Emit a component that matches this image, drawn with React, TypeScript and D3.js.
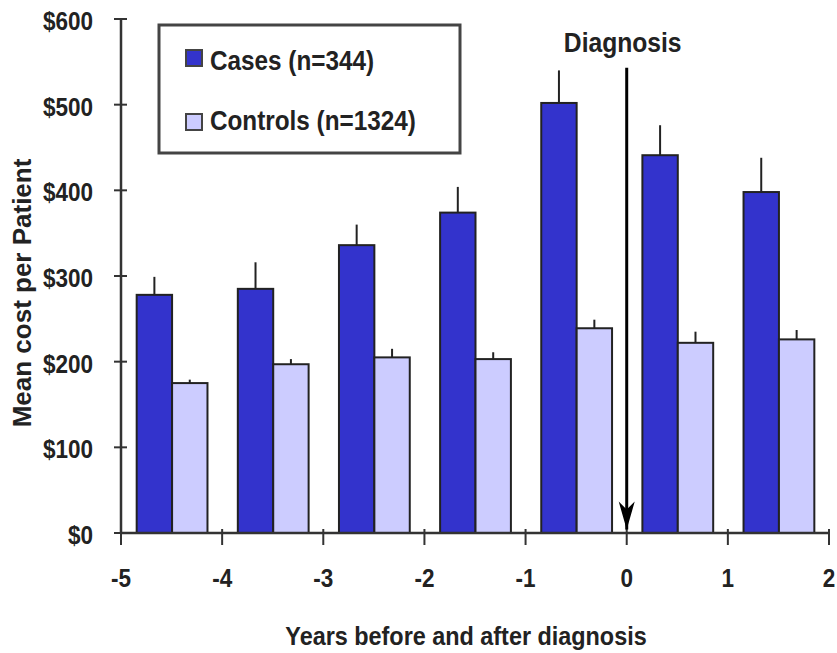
import React from "react";
import * as d3 from "d3";

const years = [-5, -4, -3, -2, -1, 0, 1];
const casesMean = [278, 285, 336, 374, 502, 441, 398];
const casesUpper = [299, 316, 360, 404, 540, 476, 438];
const controlsMean = [175, 197, 205, 203, 239, 222, 226];
const controlsUpper = [179, 203, 215, 211, 249, 235, 237];
const yTicks = [0, 100, 200, 300, 400, 500, 600];
const xTicks = [-5, -4, -3, -2, -1, 0, 1, 2];
const seriesNames = ["Cases (n=344)", "Controls (n=1324)"];
const diagnosisYear = 0;

const W = 837;
const H = 653;
const FONT = "'Liberation Sans', Arial, sans-serif";
const CASE_COLOR = "#3333cc";
const CTRL_COLOR = "#ccccff";
const INK = "#222";

function HText({ x, y, size, sx = 0.9, anchor = "start", children }: any) {
  return (
    <text
      transform={`translate(${x},${y}) scale(${sx},1)`}
      fontFamily={FONT}
      fontWeight="bold"
      fontSize={size}
      textAnchor={anchor}
      fill="#222"
    >
      {children}
    </text>
  );
}

export default function App() {
  const x = d3.scaleLinear().domain([-5, 2]).range([121, 829]);
  const y = d3.scaleLinear().domain([0, 600]).range([533, 19]);
  const caseStart = 0.155;
  const mid = 0.505;
  const end = 0.855;

  return (
    <svg
      width={W}
      height={H}
      style={{ position: "absolute", left: 0, top: 0 }}
    >
      <rect x={0} y={0} width={W} height={H} fill="#fff" />
      {/* bars */}
      {years.map((yr, i) => {
        const cx0 = x(yr + caseStart);
        const cx1 = x(yr + mid);
        const kx1 = x(yr + end);
        return (
          <g key={yr}>
            <rect
              x={cx0}
              y={y(casesMean[i])}
              width={cx1 - cx0}
              height={y(0) - y(casesMean[i])}
              fill={CASE_COLOR}
              stroke={INK}
              strokeWidth={2}
            />
            <line
              x1={(cx0 + cx1) / 2}
              x2={(cx0 + cx1) / 2}
              y1={y(casesMean[i])}
              y2={y(casesUpper[i])}
              stroke={INK}
              strokeWidth={2}
            />
            <rect
              x={cx1}
              y={y(controlsMean[i])}
              width={kx1 - cx1}
              height={y(0) - y(controlsMean[i])}
              fill={CTRL_COLOR}
              stroke={INK}
              strokeWidth={2}
            />
            <line
              x1={(cx1 + kx1) / 2}
              x2={(cx1 + kx1) / 2}
              y1={y(controlsMean[i])}
              y2={y(controlsUpper[i])}
              stroke={INK}
              strokeWidth={2}
            />
          </g>
        );
      })}

      {/* y axis */}
      <line x1={x(-5)} x2={x(-5)} y1={y(600)} y2={y(0)} stroke="#333" strokeWidth={2.5} />
      {yTicks.map((t) => (
        <g key={t}>
          <line x1={x(-5) - 7} x2={x(-5) + 6} y1={y(t)} y2={y(t)} stroke="#333" strokeWidth={2} />
          <HText x={93} y={y(t) + 11} size={25} anchor="end">{`$${t}`}</HText>
        </g>
      ))}

      {/* x axis */}
      <line x1={x(-5)} x2={x(2)} y1={y(0)} y2={y(0)} stroke="#333" strokeWidth={2.5} />
      {xTicks.map((t) => (
        <g key={t}>
          <line x1={x(t)} x2={x(t)} y1={y(0) - 4} y2={y(0) + 12} stroke="#333" strokeWidth={2} />
          <HText x={x(t)} y={587} size={25} anchor="middle">{`${t}`}</HText>
        </g>
      ))}

      {/* axis titles */}
      <HText x={466} y={645} size={26} anchor="middle">Years before and after diagnosis</HText>
      <text
        transform={`translate(31,293) rotate(-90)`}
        fontFamily={FONT}
        fontWeight="bold"
        fontSize={26}
        textAnchor="middle"
        fill="#222"
      >
        Mean cost per Patient
      </text>

      {/* diagnosis arrow */}
      <defs>
        <marker id="arrowHead" viewBox="0 0 10 16" refX={5} refY={16} markerWidth={10} markerHeight={16} markerUnits="userSpaceOnUse" orient="auto-start-reverse">
          <path d="M0,0 L5,16 L10,0 L5,5 Z" fill="#000" />
        </marker>
      </defs>
      <line x1={x(diagnosisYear)} x2={x(diagnosisYear)} y1={y(543)} y2={y(4)} stroke="#000" strokeWidth={3} />
      <path
        d={`M${x(diagnosisYear) - 8},${y(4) - 28} L${x(diagnosisYear)},${y(4)} L${x(diagnosisYear) + 8},${y(4) - 28} L${x(diagnosisYear)},${y(4) - 20} Z`}
        fill="#000"
      />
      <HText x={x(diagnosisYear) - 4} y={52} size={28} sx={0.88} anchor="middle">Diagnosis</HText>

      {/* legend */}
      <rect x={159} y={25} width={301} height={128} fill="#fff" stroke="#444" strokeWidth={3} />
      <rect x={186} y={50} width={16} height={16} fill={CASE_COLOR} stroke="#444" strokeWidth={2} />
      <HText x={210} y={70} size={27}>{seriesNames[0]}</HText>
      <rect x={186} y={114} width={16} height={16} fill={CTRL_COLOR} stroke="#444" strokeWidth={2} />
      <HText x={210} y={130} size={27}>{seriesNames[1]}</HText>
    </svg>
  );
}
